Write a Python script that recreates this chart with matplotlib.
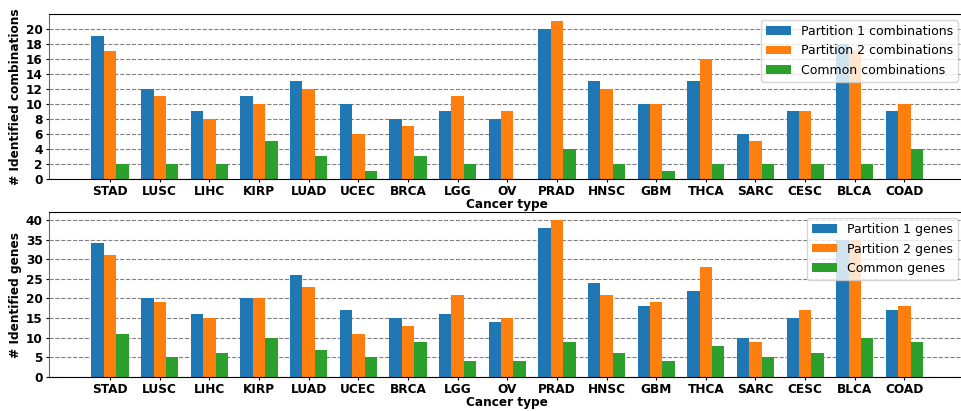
import numpy as np
import matplotlib
matplotlib.use("Agg")
import matplotlib.pyplot as plt

cancers = ["STAD", "LUSC", "LIHC", "KIRP", "LUAD", "UCEC", "BRCA", "LGG", "OV",
           "PRAD", "HNSC", "GBM", "THCA", "SARC", "CESC", "BLCA", "COAD"]

# identified combinations
comb_p1 = [19, 12, 9, 11, 13, 10, 8, 9, 8, 20, 13, 10, 13, 6, 9, 18, 9]
comb_p2 = [17, 11, 8, 10, 12, 6, 7, 11, 9, 21, 12, 10, 16, 5, 9, 17, 10]
comb_common = [2, 2, 2, 5, 3, 1, 3, 2, 0, 4, 2, 1, 2, 2, 2, 2, 4]

# identified genes
genes_p1 = [34, 20, 16, 20, 26, 17, 15, 16, 14, 38, 24, 18, 22, 10, 15, 35, 17]
genes_p2 = [31, 19, 15, 20, 23, 11, 13, 21, 15, 40, 21, 19, 28, 9, 17, 35, 18]
genes_common = [11, 5, 6, 10, 7, 5, 9, 4, 4, 9, 6, 4, 8, 5, 6, 10, 9]

W, H = 961, 411
fig = plt.figure(figsize=(W / 100, H / 100), dpi=100)

x = np.arange(len(cancers))
w = 0.25
fs = 8.7


def draw(ax, a, b, c, labels, ylabel, ymax, yticks):
    ax.bar(x - w, a, w, color="tab:blue", label=labels[0])
    ax.bar(x, b, w, color="tab:orange", label=labels[1])
    ax.bar(x + w, c, w, color="tab:green", label=labels[2])
    ax.set_axisbelow(True)
    ax.yaxis.grid(True, linestyle="--", color="gray", linewidth=0.8)
    ax.set_xlim(-1.23, 17.2)
    ax.set_ylim(0, ymax)
    ax.set_yticks(yticks)
    ax.set_xticks(x)
    ax.set_xticklabels(cancers, fontsize=fs, fontweight="bold")
    for t in ax.get_yticklabels():
        t.set_fontsize(fs)
        t.set_fontweight("bold")
    ax.tick_params(length=2.5, pad=2)
    ax.spines["left"].set_color("dimgray")
    ax.set_xlabel("Cancer type", fontsize=fs, fontweight="bold", labelpad=0)
    ax.set_ylabel(ylabel, fontsize=fs, fontweight="bold", labelpad=3)
    ax.legend(loc="upper right", fontsize=9)


ax1 = fig.add_axes([49 / W, 1 - 179 / H, 915 / W, 165 / H])
draw(ax1, comb_p1, comb_p2, comb_common,
     ["Partition 1 combinations", "Partition 2 combinations", "Common combinations"],
     "# Identified combinations", 22, range(0, 21, 2))

ax2 = fig.add_axes([49 / W, 1 - 377 / H, 915 / W, 165 / H])
draw(ax2, genes_p1, genes_p2, genes_common,
     ["Partition 1 genes", "Partition 2 genes", "Common genes"],
     "# Identified genes", 42, range(0, 41, 5))

fig.savefig("out.png", dpi=100)
